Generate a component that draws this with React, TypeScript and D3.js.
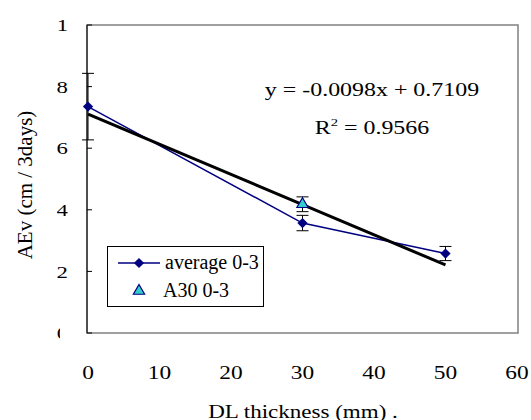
import React from 'react';
import * as d3 from 'd3';

// DL thickness (mm) and measured AEv values
const thickness = [0, 30, 50];
const averageVals = [0.735, 0.357, 0.258];
const averageErr = [0.108, 0.025, 0.023];

const a30X = [30];
const a30Vals = [0.418];
const a30Err = [0.024];

// linear trend of "average 0-3"
const trendSlope = -0.0098;
const trendIntercept = 0.7109;
const trendRange = [0, 50];

const xTicks = [0, 10, 20, 30, 40, 50, 60];
const yTicks = [0, 0.2, 0.4, 0.6, 0.8, 1];

const W = 531;
const H = 420;
const plot = { left: 87, right: 518, top: 25, bottom: 333 };
const NAVY = '#000080';
const SERIF = '"Liberation Serif", "Times New Roman", serif';

const App = () => {
  const x = d3.scaleLinear().domain([0, 60]).range([88, 517]);
  const y = d3.scaleLinear().domain([0, 1]).range([plot.bottom, plot.top]);
  const fmt = d3.format('~g');

  const avgData = thickness.map((t, i) => ({ t, v: averageVals[i], e: averageErr[i] }));
  const a30Data = a30X.map((t, i) => ({ t, v: a30Vals[i], e: a30Err[i] }));

  const line = d3
    .line<{ t: number; v: number }>()
    .x((d) => x(d.t))
    .y((d) => y(d.v));

  const trend = trendRange.map((t) => ({ t, v: trendSlope * t + trendIntercept }));

  // square turned 45 degrees, like the Excel diamond marker
  const diamond = d3.symbol().type(d3.symbolSquare).size(52)();
  const triangle = d3.symbol().type(d3.symbolTriangle).size(55)();

  const errorBar = (d: { t: number; v: number; e: number }, key: string) => {
    const cx = x(d.t);
    const y1 = y(d.v + d.e);
    const y2 = y(d.v - d.e);
    return (
      <g key={key} stroke="#000" strokeWidth={1}>
        <line x1={cx} x2={cx} y1={y1} y2={y2} />
        <line x1={cx - 6} x2={cx + 6} y1={y1} y2={y1} />
        <line x1={cx - 6} x2={cx + 6} y1={y2} y2={y2} />
      </g>
    );
  };

  return (
    <svg
      width={W}
      height={H}
      style={{ position: 'absolute', left: 0, top: 0, background: '#fff' }}
      fontFamily={SERIF}
    >
      <defs>
        <clipPath id="ylabClip">
          <polygon points={`57,0 90,0 90,320 60,320 60,350 57,350`} />
        </clipPath>
      </defs>
      <rect width={W} height={H} fill="#fff" />

      {/* plot area border */}
      <rect
        x={plot.left}
        y={plot.top}
        width={plot.right - plot.left}
        height={plot.bottom - plot.top}
        fill="none"
        stroke="#808080"
        strokeWidth={1.5}
      />
      <line x1={plot.left} x2={plot.left} y1={plot.top} y2={plot.bottom} stroke="#000" strokeWidth={1} />

      {/* y ticks (inside) */}
      {yTicks.map((t) => (
        <line key={'yt' + t} x1={plot.left} x2={plot.left + 5} y1={y(t)} y2={y(t)} stroke="#000" />
      ))}

      {/* y tick labels, partly hidden like the source */}
      <g clipPath="url(#ylabClip)" fontSize={17.5} textAnchor="end">
        {yTicks.map((t) => (
          <text key={'yl' + t} transform={`translate(68,${y(t)}) scale(1.3,1)`} dy="0.35em">
            {fmt(t)}
          </text>
        ))}
      </g>

      {/* x tick labels */}
      {xTicks.map((t) => (
        <text
          key={'xl' + t}
          transform={`translate(${x(t)},379) scale(1.3,1)`}
          fontSize={18}
          textAnchor="middle"
        >
          {t}
        </text>
      ))}

      {/* axis titles */}
      <text transform="translate(303,418) scale(1.28,1)" fontSize={18} textAnchor="middle">
        DL thickness (mm) .
      </text>
      <text transform="translate(32,185) rotate(-90)" fontSize={21} textAnchor="middle">
        AEv (cm / 3days)
      </text>

      {/* series average 0-3 */}
      <path d={line(avgData) || ''} fill="none" stroke={NAVY} strokeWidth={1.5} />
      {avgData.map((d, i) => errorBar(d, 'ea' + i))}
      {a30Data.map((d, i) => errorBar(d, 'eb' + i))}

      {/* linear trend */}
      <path d={line(trend) || ''} fill="none" stroke="#000" strokeWidth={3} />

      {avgData.map((d, i) => (
        <path
          key={'pa' + i}
          d={diamond || ''}
          transform={`translate(${x(d.t)},${y(d.v)}) rotate(45)`}
          fill={NAVY}
        />
      ))}
      {a30Data.map((d, i) => (
        <path
          key={'pb' + i}
          d={triangle || ''}
          transform={`translate(${x(d.t)},${y(d.v)})`}
          fill="#33CCCC"
          stroke={NAVY}
          strokeWidth={1.2}
        />
      ))}

      {/* trend equation */}
      <text transform="translate(372,96) scale(1.33,1)" fontSize={18} textAnchor="middle">
        y = -0.0098x + 0.7109
      </text>
      <text transform="translate(372,134) scale(1.33,1)" fontSize={18} textAnchor="middle">
        R<tspan fontSize={11} dy={-8}>2</tspan>
        <tspan dy={8}> = 0.9566</tspan>
      </text>

      {/* legend */}
      <g>
        <rect x={107.5} y={246.5} width={156} height={60} fill="#fff" stroke="#000" strokeWidth={1} />
        <line x1={118} x2={160} y1={263} y2={263} stroke={NAVY} strokeWidth={1.5} />
        <path d={diamond || ''} transform="translate(139,263) rotate(45)" fill={NAVY} />
        <text x={165} y={268.5} fontSize={20}>
          average 0-3
        </text>
        <path d={triangle || ''} transform="translate(139,291)" fill="#33CCCC" stroke={NAVY} strokeWidth={1.2} />
        <text x={163} y={297} fontSize={20}>
          A30 0-3
        </text>
      </g>
    </svg>
  );
};

export default App;
